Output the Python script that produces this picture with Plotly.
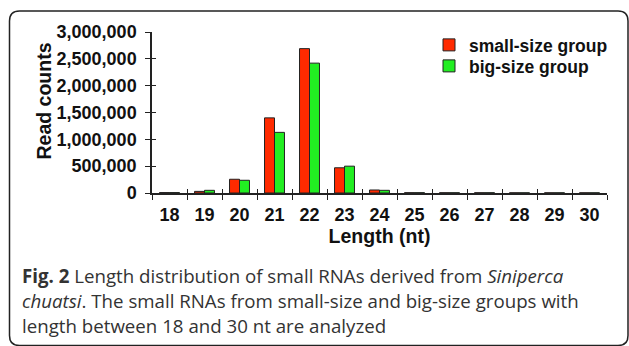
import plotly.graph_objects as go

# ---- data ----
lengths = ["18", "19", "20", "21", "22", "23", "24", "25", "26", "27", "28", "29", "30"]
small_size = [8000, 30000, 256000, 1400000, 2690000, 470000, 56000, 6000, 5000, 5000, 4000, 4000, 4000]
big_size = [8000, 50000, 237000, 1130000, 2420000, 500000, 50000, 6000, 5000, 5000, 4000, 4000, 4000]
y_ticks = [0, 500000, 1000000, 1500000, 2000000, 2500000, 3000000]

W, H = 629, 346
ML, MR, MT, MB = 152, 22, 32, 153
PW, PH = W - ML - MR, H - MT - MB

def px(x):
    return (x - ML) / PW

def py(y):
    return (H - MB - y) / PH

FONT = "Liberation Sans, Arial, sans-serif"
CAP = "Open Sans, sans-serif"
RED = "#ff2a00"
GREEN = "#22ee22"
EDGE = "#222222"

fig = go.Figure()
fig.add_trace(go.Bar(x=lengths, y=small_size, name="small-size group", legend="legend",
                     marker=dict(color=RED, line=dict(color=EDGE, width=1))))
fig.add_trace(go.Bar(x=lengths, y=big_size, name="big-size group", legend="legend2",
                     marker=dict(color=GREEN, line=dict(color=EDGE, width=1))))
# invisible helper trace to carry the inward half of the crossing ticks
fig.add_trace(go.Scatter(x=lengths, y=small_size, xaxis="x2", yaxis="y2", mode="markers",
                         marker=dict(opacity=0), showlegend=False, hoverinfo="skip"))

tickfont = dict(family=FONT, size=18, color="#111", weight="bold")
legfont = dict(family=FONT, size=17.5, color="#111", weight="bold")

fig.update_layout(
    width=W, height=H,
    margin=dict(l=ML, r=MR, t=MT, b=MB),
    paper_bgcolor="white", plot_bgcolor="white",
    barmode="group", bargap=0.43, bargroupgap=0,
    showlegend=True,
    legend=dict(x=px(429), y=py(27), xanchor="left", yanchor="top", font=legfont,
                bgcolor="rgba(0,0,0,0)", itemwidth=30),
    legend2=dict(x=px(429), y=py(48), xanchor="left", yanchor="top", font=legfont,
                 bgcolor="rgba(0,0,0,0)", itemwidth=30),
    xaxis=dict(type="category", range=[-0.5, 12.5], tickson="boundaries",
               ticks="outside", ticklen=5, tickwidth=1.2, tickcolor=EDGE,
               showline=True, linecolor=EDGE, linewidth=1.5, showgrid=False,
               tickfont=tickfont, ticklabelstandoff=5,
               title=dict(text="Length (nt)", font=dict(family=FONT, size=19.5, color="#111", weight="bold"),
                          standoff=5)),
    xaxis2=dict(type="category", range=[-0.5, 12.5], overlaying="x", anchor="y2",
                tickson="boundaries", ticks="inside", ticklen=4, tickwidth=1.2, tickcolor=EDGE,
                showticklabels=False, showline=False, showgrid=False),
    yaxis=dict(range=[0, 3000000], tickvals=y_ticks, tickformat=",",
               ticks="outside", ticklen=5, tickwidth=1.2, tickcolor=EDGE,
               showline=True, linecolor=EDGE, linewidth=1.5, showgrid=False, zeroline=False,
               tickfont=tickfont, ticklabelstandoff=5),
    yaxis2=dict(range=[0, 3000000], overlaying="y", anchor="x2", tickvals=y_ticks,
                ticks="inside", ticklen=4, tickwidth=1.2, tickcolor=EDGE,
                showticklabels=False, showline=False, showgrid=False, zeroline=False),
)

# y-axis title
fig.add_annotation(text="Read counts", textangle=-90, x=px(43), y=py(101.5),
                   xref="paper", yref="paper", showarrow=False, xanchor="center", yanchor="middle",
                   font=dict(family=FONT, size=19.5, color="#111", weight="bold"))

# caption
cap_font = dict(family=CAP, size=18.7, color="#333333")
lines = [
    "<b>Fig. 2</b> Length distribution of small RNAs derived from <i>Siniperca</i>",
    "<i>chuatsi</i>. The small RNAs from small-size and big-size groups with",
    "length between 18 and 30 nt are analyzed",
]
for i, t in enumerate(lines):
    fig.add_annotation(text=t, x=px(20), y=py(275 + 25 * i), xref="paper", yref="paper",
                       showarrow=False, xanchor="left", yanchor="middle", align="left", font=cap_font)

# rounded frame
L, T, R, B, r = 9.5, 11, 628, 345.5, 10
path = (f"M {px(L)},{py(B - r)} L {px(L)},{py(T + r)} Q {px(L)},{py(T)} {px(L + r)},{py(T)} "
        f"L {px(R - r)},{py(T)} Q {px(R)},{py(T)} {px(R)},{py(T + r)} "
        f"L {px(R)},{py(B - r)} Q {px(R)},{py(B)} {px(R - r)},{py(B)} "
        f"L {px(L + r)},{py(B)} Q {px(L)},{py(B)} {px(L)},{py(B - r)}")
fig.add_shape(type="path", path=path, xref="paper", yref="paper",
              line=dict(color="#222", width=1.5))

fig.write_html("out.html")
